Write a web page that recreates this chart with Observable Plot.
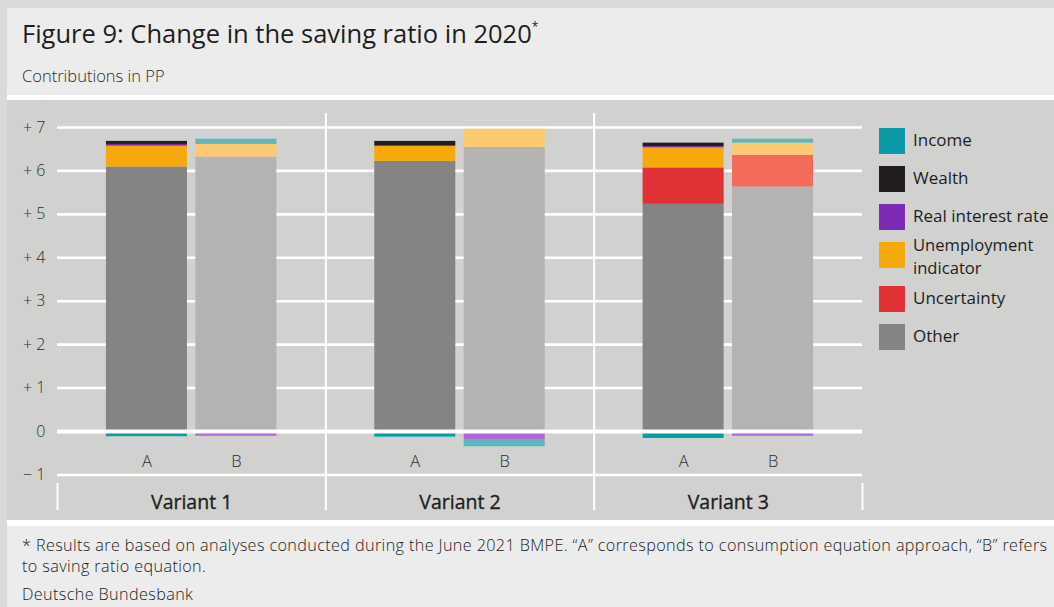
<!DOCTYPE html>
<html>
<head>
<meta charset="utf-8">
<script src="https://cdn.jsdelivr.net/npm/d3@7"></script>
<script src="https://cdn.jsdelivr.net/npm/@observablehq/plot@0.6"></script>
<style>
  html, body { margin: 0; padding: 0; }
  body { width: 1054px; height: 607px; background: #dadada; position: relative; overflow: hidden; font-family: "Open Sans", "Noto Sans", sans-serif; color: #222; }
  #panel { position: absolute; left: 7px; top: 8px; width: 1047px; height: 599px; background: #ececec; }
  #title { position: absolute; left: 15px; top: 8px; font-size: 25.5px; white-space: nowrap; color: #1e1e1e; }
  #title sup { font-size: 12px; position: relative; top: -3px; }
  #subtitle { position: absolute; left: 15px; top: 56px; font-size: 16.5px; font-weight: 300; color: #2a2a2a; white-space: nowrap; }
  #chartArea { position: absolute; left: 0; top: 87px; width: 1047px; height: 420px; background: #d1d1d0; border-top: 5px solid #fff; border-bottom: 6px solid #fff; }
  #plot { position: absolute; left: 0; top: 0; }
  #legend { position: absolute; left: 872px; top: 0; }
  .item { position: absolute; left: 0; width: 180px; }
  .sw { position: absolute; left: 0; top: 0; width: 26px; height: 26px; }
  .lab { position: absolute; left: 34px; font-size: 17px; line-height: 20px; color: #1e1e1e; white-space: nowrap; }
  .lab.two { font-size: 16.6px; line-height: 22px; }
  #note { position: absolute; left: 15px; top: 527px; width: 1032px; font-size: 16.2px; letter-spacing: 0.38px; line-height: 21px; font-weight: 300; color: #222; }
  #source { position: absolute; left: 15px; top: 575px; font-size: 16.2px; letter-spacing: 0.38px; font-weight: 300; color: #222; white-space: nowrap; }
</style>
</head>
<body>
<div id="panel">
  <div id="title">Figure 9: Change in the saving ratio in 2020<sup>*</sup></div>
  <div id="subtitle">Contributions in PP</div>
  <div id="chartArea">
    <div id="plot"></div>
    <div id="legend"></div>
  </div>
  <div id="note">* Results are based on analyses conducted during the June 2021 BMPE. “A” corresponds to consumption equation approach, “B” refers to saving ratio equation.</div>
  <div id="source">Deutsche Bundesbank</div>
</div>
<script>
// ---- data ----
const variants = ["Variant 1", "Variant 2", "Variant 3"];
const approaches = ["A", "B"];
// stacking order, bottom to top
const factors = ["Other", "Uncertainty", "Unemployment indicator", "Real interest rate", "Wealth", "Income"];
// values per bar: 1A, 1B, 2A, 2B, 3A, 3B
const other        = [6.09, 6.32, 6.22, 6.54, 5.23, 5.63];
const uncertainty  = [0,    0,    0,    0,    0.84, 0.73];
const unemployment = [0.48, 0.29, 0.35, 0.42, 0.46, 0.28];
const realInterest = [0.04, -0.11, 0,   -0.20, 0.03, -0.11];
const wealth       = [0.07, 0,    0.11, 0,    0.08, 0];
const income       = [-0.12, 0.12, -0.13, -0.15, -0.16, 0.09];
const yTicks = [-1, 0, 1, 2, 3, 4, 5, 6, 7];
const legendOrder = ["Income", "Wealth", "Real interest rate", "Unemployment indicator", "Uncertainty", "Other"];
const legendLines = {"Unemployment indicator": ["Unemployment", "indicator"]};

// ---- styles ----
const colorsA = {
  "Other": "#858483", "Uncertainty": "#e03137", "Unemployment indicator": "#f5a90b",
  "Real interest rate": "#7c2bb5", "Wealth": "#221e1f", "Income": "#0b9ba7"
};
const colorsB = {
  "Other": "#b4b3b1", "Uncertainty": "#f56b5b", "Unemployment indicator": "#fdc970",
  "Real interest rate": "#b267d9", "Wealth": "#5a5556", "Income": "#5cb8be"
};

const series = {
  "Other": other, "Uncertainty": uncertainty, "Unemployment indicator": unemployment,
  "Real interest rate": realInterest, "Wealth": wealth, "Income": income
};

const half = 0.453;
const rows = [];
variants.forEach((v, vi) => {
  approaches.forEach((a, ai) => {
    const bi = vi * 2 + ai;
    const pos = vi * 3 + ai;
    factors.forEach(f => {
      const value = series[f][bi];
      if (value !== 0) rows.push({variant: v, approach: a, factor: f, value, x1: pos - half, x2: pos + half,
        color: (a === "A" ? colorsA : colorsB)[f]});
    });
  });
});

const abLabels = [];
variants.forEach((v, vi) => approaches.forEach((a, ai) => abLabels.push({pos: vi * 3 + ai, label: a})));
const variantLabels = variants.map((v, vi) => ({pos: vi * 3 + 0.5, label: v}));
const separators = [2, 5];
const endTicks = [-1, 8];

const fmt = d => d > 0 ? "+ " + d : d < 0 ? "\u2212 " + Math.abs(d) : "0";

const unit = 43.43, zeroPx = 331;
const chart = Plot.plot({
  width: 870,
  height: 420,
  marginLeft: 50, marginRight: 15, marginTop: 0, marginBottom: 0,
  style: {background: "transparent", fontFamily: "'Open Sans', 'Noto Sans', sans-serif", overflow: "visible"},
  x: {type: "linear", domain: [-1, 8], range: [50, 855], axis: null},
  y: {domain: [-2, 7.5], range: [zeroPx + 2 * unit, zeroPx - 7.5 * unit], axis: null},
  color: {type: "identity"},
  marks: [
    Plot.ruleY(yTicks.filter(d => d !== 0), {x1: -1, x2: 8, stroke: "#fff", strokeWidth: 2.6}),
    Plot.ruleX(separators, {y1: -1.82, y2: 7.32, stroke: "#fff", strokeWidth: 2}),
    Plot.ruleX(endTicks, {y1: -1.2, y2: -1.82, stroke: "#fff", strokeWidth: 2}),
    Plot.rectY(rows, Plot.stackY({x1: "x1", x2: "x2", y: "value", z: "factor", fill: "color"})),
    Plot.ruleY([0], {x1: -1, x2: 8, stroke: "#fff", strokeWidth: 4}),
    Plot.text(yTicks, {x: -1, y: d => d, text: fmt, dx: -12, textAnchor: "end", fontSize: 16, fill: "#2e2e2e", fontWeight: 300}),
    Plot.text(abLabels, {x: "pos", y: -0.69, text: "label", fontSize: 16.5, fill: "#2e2e2e", fontWeight: 300}),
    Plot.text(variantLabels, {x: "pos", y: -1.64, text: "label", fontSize: 19.5, fill: "#1e1e1e", fontWeight: 500,
      stroke: "#1e1e1e", strokeWidth: 0.35})
  ]
});
document.getElementById("plot").appendChild(chart);

// legend
const legendTops = [28, 66, 104, 142, 186, 224];
const lg = document.getElementById("legend");
legendOrder.forEach((f, i) => {
  const it = document.createElement("div");
  it.className = "item";
  it.style.top = legendTops[i] + "px";
  const sw = document.createElement("div");
  sw.className = "sw";
  sw.style.background = colorsA[f];
  it.appendChild(sw);
  const lines = legendLines[f] || [f];
  lines.forEach((t, j) => {
    const lab = document.createElement("div");
    lab.className = lines.length > 1 ? "lab two" : "lab";
    lab.style.top = (lines.length > 1 ? -8 + j * 23 : 2) + "px";
    lab.textContent = t;
    it.appendChild(lab);
  });
  lg.appendChild(it);
});
</script>
</body>
</html>
